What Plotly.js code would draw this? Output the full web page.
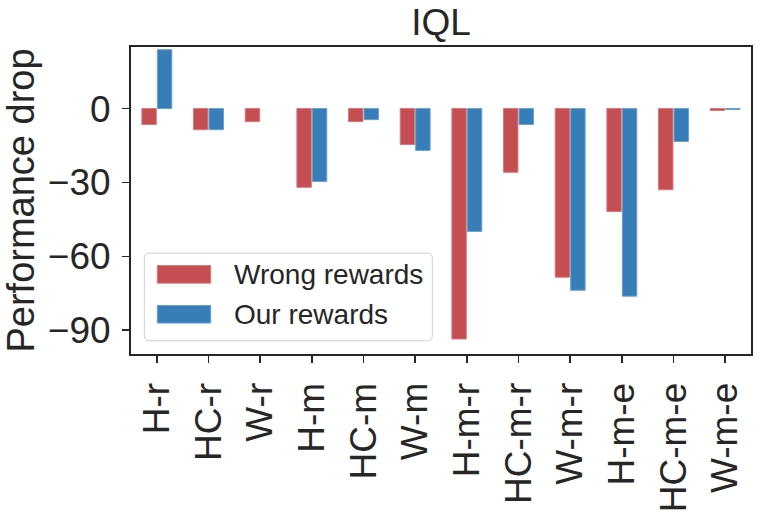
<!DOCTYPE html>
<html>
<head>
<meta charset="utf-8">
<script src="https://cdn.plot.ly/plotly-3.0.1.min.js"></script>
<style>html,body{margin:0;padding:0;background:#fff;}#chart{width:760px;height:512px;}</style>
</head>
<body>
<div id="chart"></div>
<script>
const categories = ["H-r","HC-r","W-r","H-m","HC-m","W-m","H-m-r","HC-m-r","W-m-r","H-m-e","HC-m-e","W-m-e"];
const wrongRewards = [-6.5, -8.6, -5.3, -32.0, -5.3, -14.6, -93.6, -25.9, -68.5, -41.8, -33.0, -0.8];
const ourRewards   = [23.9, -8.6, null, -29.6, -4.5, -17.0, -49.9, -6.5, -73.8, -76.2, -13.4, -0.4];
const seriesNames = ["Wrong rewards", "Our rewards"];
const yTickVals = [0, -30, -60, -90];

const FONT = '"Liberation Sans", Arial, "DejaVu Sans", sans-serif';
const TXT = '#262626';
const RED = '#c44e52', RED_EDGE = '#d8787b';
const BLUE = '#377eb8', BLUE_EDGE = '#6a9fcc';

const traces = [
  {type:'bar', name:seriesNames[0], x:categories, y:wrongRewards,
   marker:{color:RED, line:{color:RED_EDGE, width:1}}, showlegend:false, hoverinfo:'x+y'},
  {type:'bar', name:seriesNames[1], x:categories, y:ourRewards,
   marker:{color:BLUE, line:{color:BLUE_EDGE, width:1}}, showlegend:false, hoverinfo:'x+y'}
];

function px2x(p){return (p-131)/620;}
function px2y(p){return (354.3-p)/307.6;}

const annotations = [
  {xref:'paper', yref:'paper', x:px2x(232), y:px2y(274.5), xanchor:'left', yanchor:'middle',
   text:seriesNames[0], showarrow:false, font:{family:FONT, size:28, color:TXT}},
  {xref:'paper', yref:'paper', x:px2x(232), y:px2y(314.5), xanchor:'left', yanchor:'middle',
   text:seriesNames[1], showarrow:false, font:{family:FONT, size:28, color:TXT}}
];

const bx0 = px2x(144.3), bx1 = px2x(432.3), by0 = px2y(341), by1 = px2y(253.3);
const rx = 5/620, ry = 5/307.6;
const framePath = `M${bx0+rx},${by0} L${bx1-rx},${by0} Q${bx1},${by0} ${bx1},${by0+ry} L${bx1},${by1-ry} Q${bx1},${by1} ${bx1-rx},${by1} L${bx0+rx},${by1} Q${bx0},${by1} ${bx0},${by1-ry} L${bx0},${by0+ry} Q${bx0},${by0} ${bx0+rx},${by0} Z`;

const shapes = [
  {type:'path', xref:'paper', yref:'paper', path:framePath, fillcolor:'rgba(255,255,255,0.85)', line:{color:'#d0d0d0', width:1}},
  {type:'rect', xref:'paper', yref:'paper', x0:px2x(157.3), x1:px2x(210.7), y0:px2y(283.3), y1:px2y(265.7),
   fillcolor:RED, line:{color:RED_EDGE, width:1}},
  {type:'rect', xref:'paper', yref:'paper', x0:px2x(157.3), x1:px2x(210.7), y0:px2y(323.3), y1:px2y(305.7),
   fillcolor:BLUE, line:{color:BLUE_EDGE, width:1}}
];

const layout = {
  width:760, height:512,
  margin:{l:131, r:9, t:47, b:158, pad:0},
  paper_bgcolor:'#ffffff', plot_bgcolor:'#ffffff',
  font:{family:FONT, color:TXT, size:37},
  title:{text:'IQL', font:{family:FONT, size:37, color:TXT}, x:0.5, xref:'paper', xanchor:'center',
         y:1, yref:'paper', yanchor:'bottom', pad:{b:12}},
  barmode:'group', bargap:0.4, bargroupgap:0.07,
  showlegend:false,
  xaxis:{
    type:'category', range:[-0.5, 11.5], tickangle:-90,
    showline:true, mirror:true, linecolor:TXT, linewidth:2,
    ticks:'outside', ticklen:7, tickwidth:1.5, tickcolor:TXT,
    showgrid:false, zeroline:false, fixedrange:true,
    tickfont:{family:FONT, size:37, color:TXT}, ticklabelstandoff:5
  },
  yaxis:{
    range:[-99.7, 25], tickvals:yTickVals,
    showline:true, mirror:true, linecolor:TXT, linewidth:2,
    ticks:'outside', ticklen:7, tickwidth:1.5, tickcolor:TXT,
    showgrid:false, zeroline:false, fixedrange:true,
    tickfont:{family:FONT, size:37, color:TXT}, ticklabelstandoff:4,
    title:{text:'Performance drop', font:{family:FONT, size:38, color:TXT}, standoff:12}
  },
  shapes:shapes,
  annotations:annotations
};

Plotly.newPlot('chart', traces, layout, {displayModeBar:false, staticPlot:true});
</script>
</body>
</html>
